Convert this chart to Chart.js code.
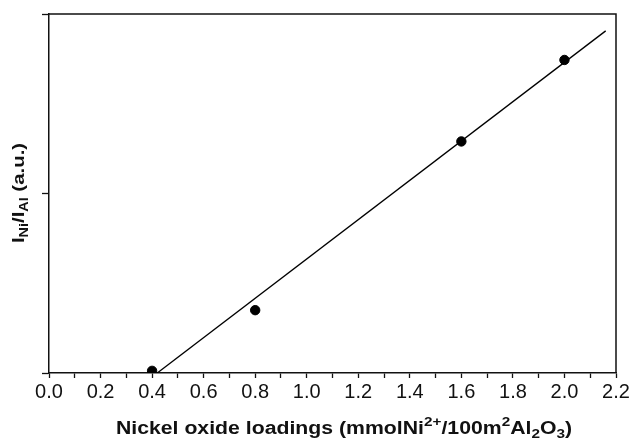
<!DOCTYPE html>
<html>
<head>
<meta charset="utf-8">
<script src="https://cdn.jsdelivr.net/npm/chart.js@4"></script>
<style>
  html, body { margin: 0; padding: 0; background: #fff; }
  #wrap { width: 632px; height: 440px; position: relative; }
</style>
</head>
<body>
<div id="wrap"><canvas id="chart"></canvas></div>
<script>
// measured points
const loadings = [0.4, 0.8, 1.6, 2.0];
const intensityRatio = [0.006, 0.175, 0.645, 0.872];

// linear fit, drawn between its two ends
const fitX = [0.42, 2.16];
const fitY = [0, 0.953];

const xTickLabels = ["0.0", "0.2", "0.4", "0.6", "0.8", "1.0", "1.2", "1.4", "1.6", "1.8", "2.0", "2.2"];

const xTitleParts = [
  { t: "Nickel oxide loadings (mmolNi" }, { t: "2+", s: "sup" },
  { t: "/100m" }, { t: "2", s: "sup" },
  { t: "Al" }, { t: "2", s: "sub" }, { t: "O" }, { t: "3", s: "sub" }, { t: ")" }
];
const yTitleParts = [
  { t: "I" }, { t: "Ni", s: "sub" }, { t: "/I" }, { t: "Al", s: "sub" }, { t: " (a.u.)" }
];

const FONT = "'Liberation Sans', Arial, sans-serif";

// draws text with sub/superscripts, centred on x; stretch widens the glyphs
function drawRich(ctx, parts, x, y, size, stretch) {
  const small = Math.round(size * 0.7);
  let total = 0;
  parts.forEach(p => {
    ctx.font = `bold ${p.s ? small : size}px ${FONT}`;
    p.w = ctx.measureText(p.t).width;
    total += p.w;
  });
  ctx.save();
  ctx.translate(x, y);
  ctx.scale(stretch, 1);
  let cx = -total / 2;
  ctx.textAlign = "left";
  ctx.textBaseline = "alphabetic";
  parts.forEach(p => {
    ctx.font = `bold ${p.s ? small : size}px ${FONT}`;
    let dy = 0;
    if (p.s === "sup") dy = -size * 0.42;
    if (p.s === "sub") dy = size * 0.24;
    ctx.fillText(p.t, cx, dy);
    cx += p.w;
  });
  ctx.restore();
}

const framePlugin = {
  id: "frame",
  afterDraw(chart) {
    const { ctx, chartArea: a } = chart;
    ctx.save();
    ctx.strokeStyle = "#111";
    ctx.lineWidth = 1.5;
    ctx.beginPath();
    ctx.moveTo(a.left, a.top);
    ctx.lineTo(a.right, a.top);
    ctx.lineTo(a.right, a.bottom);
    ctx.stroke();

    ctx.fillStyle = "#111";
    drawRich(ctx, xTitleParts, 344, 434, 18, 1.18);
    ctx.translate(24, 193);
    ctx.rotate(-Math.PI / 2);
    drawRich(ctx, yTitleParts, 0, 0, 17, 1.2);
    ctx.restore();
  }
};

new Chart(document.getElementById("chart"), {
  type: "scatter",
  data: {
    datasets: [
      {
        label: "data",
        data: loadings.map((x, i) => ({ x, y: intensityRatio[i] })),
        backgroundColor: "#000",
        borderColor: "#000",
        pointRadius: 4.7,
        pointHoverRadius: 4.7
      },
      {
        label: "fit",
        type: "line",
        data: fitX.map((x, i) => ({ x, y: fitY[i] })),
        borderColor: "#000",
        borderWidth: 1.3,
        pointRadius: 0,
        tension: 0
      }
    ]
  },
  options: {
    responsive: true,
    maintainAspectRatio: false,
    animation: false,
    layout: { padding: { top: 14, right: 16, left: 0, bottom: 0 } },
    plugins: {
      legend: { display: false },
      tooltip: { enabled: false }
    },
    scales: {
      x: {
        type: "linear",
        min: 0,
        max: 2.2,
        afterFit: (s) => { s.height = 67; },
        afterBuildTicks: (s) => {
          s.ticks = [];
          for (let i = 0; i <= 22; i++) s.ticks.push({ value: i / 10 });
        },
        ticks: {
          color: "#111",
          padding: 2,
          maxRotation: 0,
          autoSkip: false,
          font: { family: FONT, size: 20 },
          callback: (v, i) => (i % 2 === 0 ? xTickLabels[i / 2] : "")
        },
        grid: {
          drawOnChartArea: false,
          tickLength: 5,
          color: "#111",
          tickWidth: 1.3
        },
        border: { color: "#111", width: 1.5 }
      },
      y: {
        min: 0,
        max: 1,
        afterFit: (s) => { s.width = 49; },
        ticks: { display: false, stepSize: 0.5 },
        grid: {
          drawOnChartArea: false,
          tickLength: 7,
          color: "#111",
          tickWidth: 1.3
        },
        border: { color: "#111", width: 1.5 }
      }
    }
  },
  plugins: [framePlugin]
});
</script>
</body>
</html>
